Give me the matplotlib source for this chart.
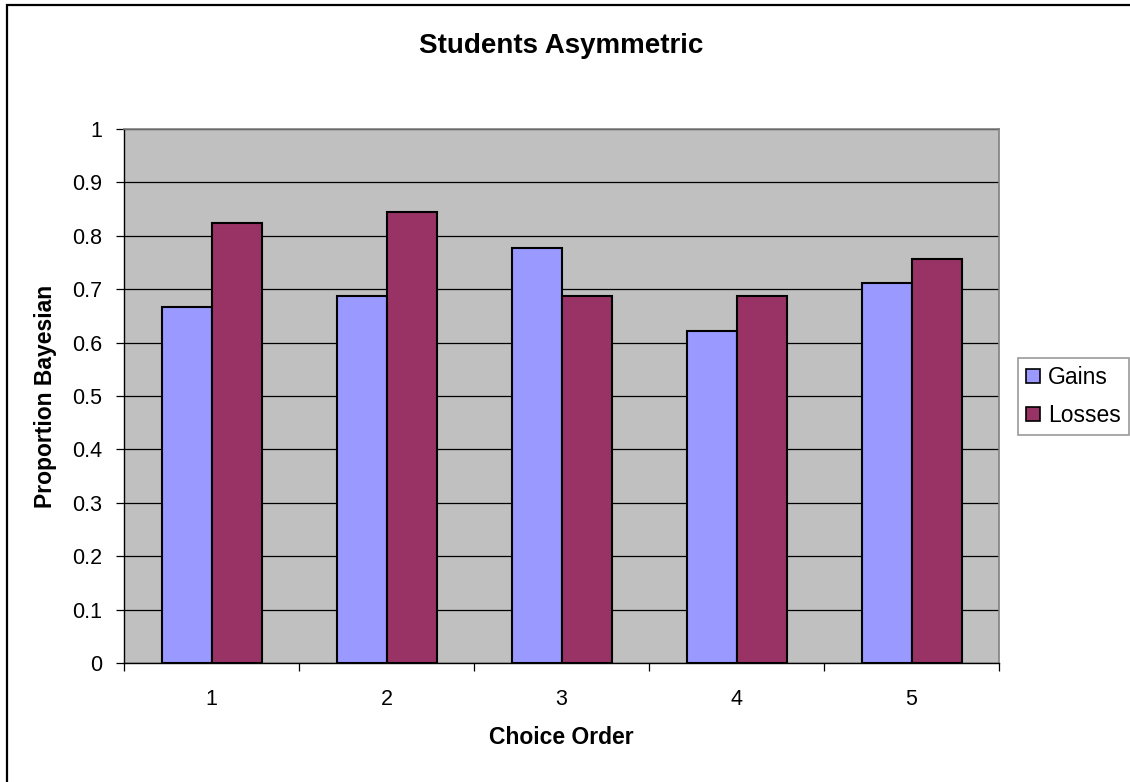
import matplotlib.pyplot as plt
import numpy as np
from matplotlib.patches import Rectangle

plt.rcParams['font.family'] = ['Liberation Sans', 'DejaVu Sans']

# proportion of Bayesian choices by choice order
choice_order = [1, 2, 3, 4, 5]
gains = [0.667, 0.687, 0.778, 0.622, 0.711]
losses = [0.824, 0.845, 0.687, 0.687, 0.756]
y_ticks = [0, 0.1, 0.2, 0.3, 0.4, 0.5, 0.6, 0.7, 0.8, 0.9, 1]
y_tick_labels = ['0', '0.1', '0.2', '0.3', '0.4', '0.5', '0.6', '0.7', '0.8', '0.9', '1']

W, H = 1130, 782
fig = plt.figure(figsize=(W / 100, H / 100), dpi=100)
ax = fig.add_axes([124 / W, 1 - 663 / H, 875 / W, 534 / H])

x = np.arange(len(choice_order))
width = 1 / 3.5
ax.bar(x - width / 2, gains, width, color='#9999FF', edgecolor='black',
       linewidth=1.5, label='Gains', zorder=3)
ax.bar(x + width / 2, losses, width, color='#993366', edgecolor='black',
       linewidth=1.5, label='Losses', zorder=3)

ax.set_facecolor('#C0C0C0')
ax.set_xlim(-0.5, len(choice_order) - 0.5)
ax.set_ylim(0, 1)
ax.set_yticks(y_ticks)
ax.set_yticklabels(y_tick_labels)
ax.yaxis.grid(True, color='black', linewidth=0.9, zorder=1)
ax.set_axisbelow(True)

# category ticks sit on the boundaries between groups
ax.set_xticks(np.arange(len(choice_order) + 1) - 0.5)
ax.set_xticklabels([])
ax.set_xticks(x, minor=True)
ax.set_xticklabels([str(c) for c in choice_order], minor=True)
ax.tick_params(axis='x', which='major', direction='out', length=6, width=0.9)
ax.tick_params(axis='x', which='minor', length=0, pad=19, labelsize=15.5)
ax.tick_params(axis='y', direction='out', length=6, width=0.9, pad=10, labelsize=15.5)

for side in ('top', 'right'):
    ax.spines[side].set_color('#808080')
    ax.spines[side].set_linewidth(1.2)
for side in ('left', 'bottom'):
    ax.spines[side].set_color('black')
    ax.spines[side].set_linewidth(1.0)

fig.text(561 / W, 1 - 46 / H, 'Students Asymmetric', ha='center', va='center',
         fontsize=20, fontweight='bold')
fig.text(561 / W, 1 - 738 / H, 'Choice Order', ha='center', va='center',
         fontsize=16.5, fontweight='bold')
fig.text(46 / W, 1 - 396 / H, 'Proportion Bayesian', ha='center', va='center',
         rotation=90, fontsize=16.5, fontweight='bold')

leg = fig.legend(loc='upper left', bbox_to_anchor=(1018 / W, 1 - 358 / H),
                 fontsize=16.5, frameon=True, fancybox=False,
                 handlelength=0.6, handleheight=0.6, handletextpad=0.35,
                 labelspacing=0.65, borderpad=0.35, borderaxespad=0)
leg.get_frame().set_edgecolor('#808080')
leg.get_frame().set_linewidth(1.2)
for h in leg.legend_handles:
    h.set_linewidth(1.2)

# chart frame
fig.patches.append(Rectangle((7 / W, -0.1), 1.0, 1.1 - 5 / H, transform=fig.transFigure,
                             fill=False, edgecolor='black', linewidth=1.6))

fig.savefig('out.png', dpi=100)
